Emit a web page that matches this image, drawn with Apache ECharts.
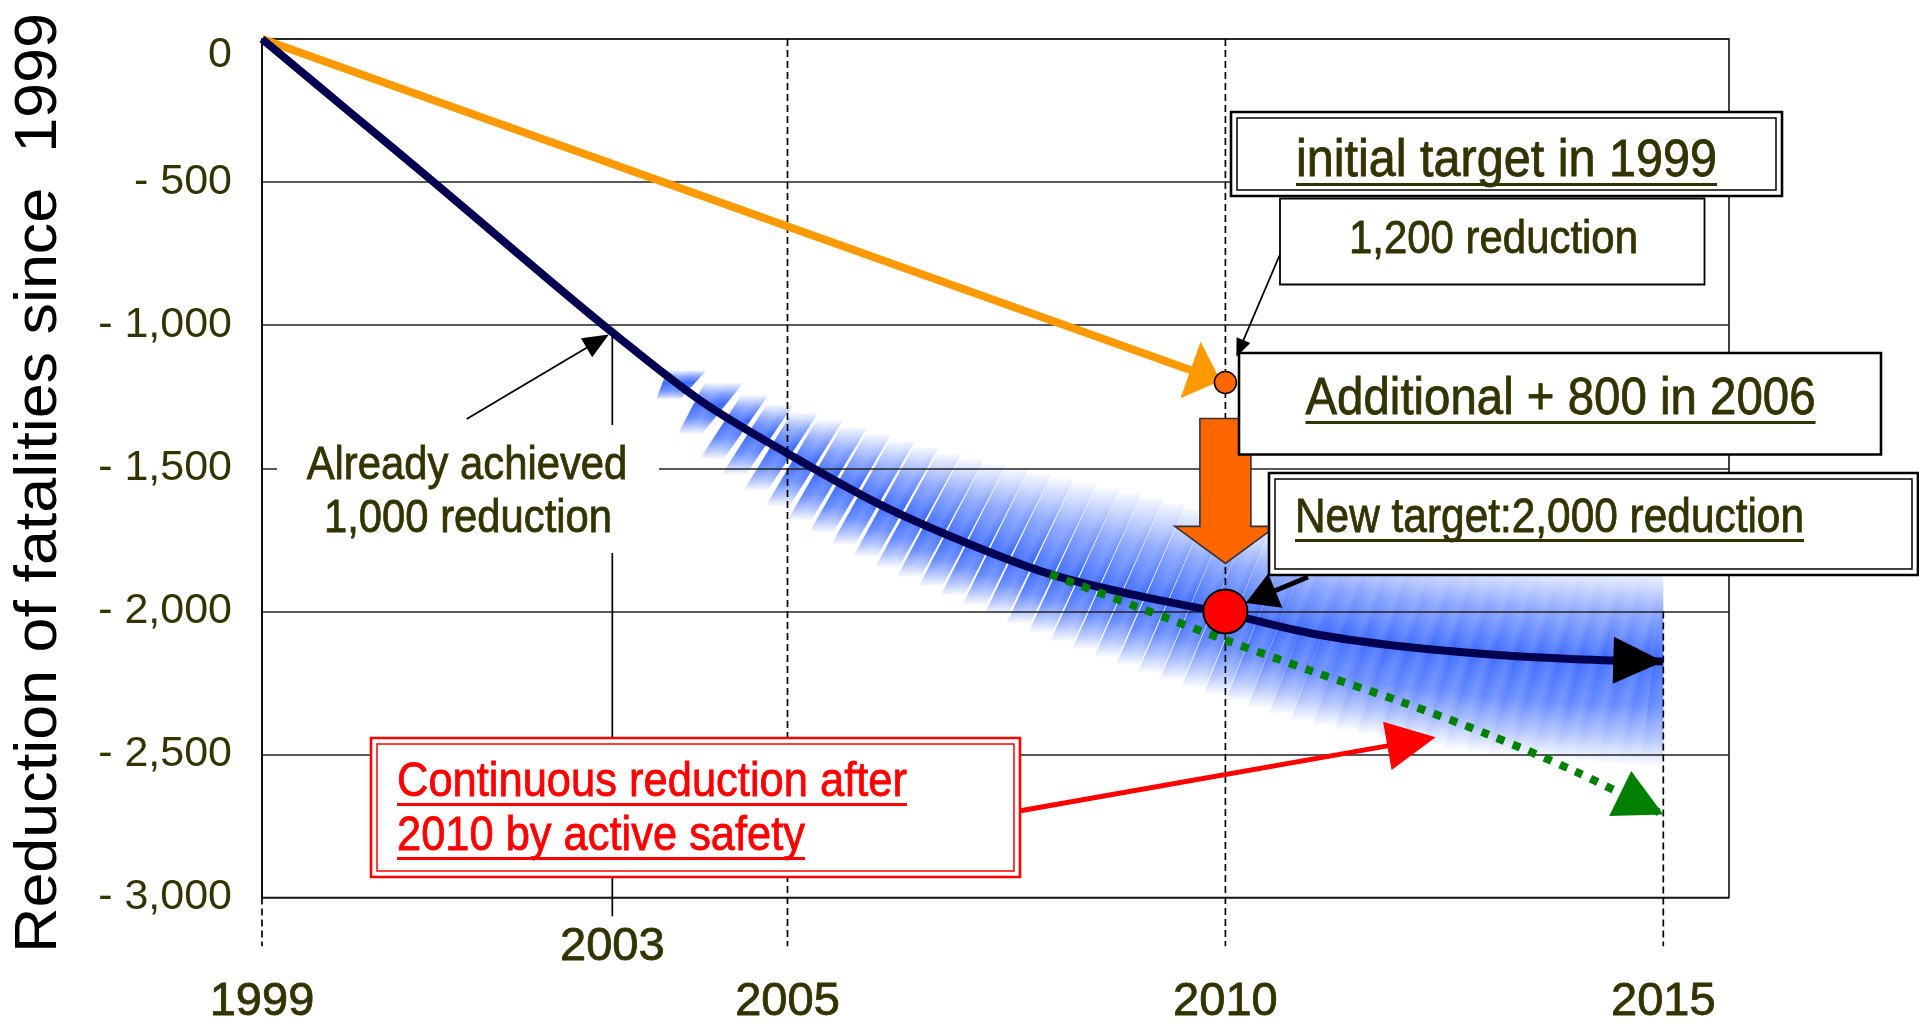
<!DOCTYPE html>
<html>
<head>
<meta charset="utf-8">
<script src="https://cdn.jsdelivr.net/npm/echarts@6/dist/echarts.min.js"></script>
<style>
  html, body { margin: 0; padding: 0; background: #ffffff; }
  #chart { width: 1919px; height: 1026px; }
</style>
</head>
<body>
<div id="chart"></div>
<script>
// ---- data ---------------------------------------------------------------
// Years covered by the fatality-reduction trajectory
const years = [1999, 2000, 2001, 2002, 2003, 2004, 2005, 2006, 2007, 2008,
               2009, 2010, 2011, 2012, 2013, 2014, 2015];
// Reduction of fatalities since 1999 (achieved, then projected)
const trendValues = [0, -255, -510, -770, -1025, -1262, -1448, -1618, -1755, -1870,
                     -1945, -2007, -2078, -2122, -2150, -2167, -2175];

// Initial target set in 1999: 1,200 reduction by 2010
const initialTargetYears = [1999, 2010];
const initialTargetValues = [0, -1200];

// New target: 2,000 reduction by 2010
const newTargetYear = 2010;
const newTargetValue = -2000;

// Continuous reduction after 2010 by active safety
const activeYears = [2008, 2009, 2010, 2011, 2012, 2013, 2014, 2015];
const activeValues = [-1870, -1985, -2100, -2210, -2315, -2430, -2560, -2710];

// Range of the expected reduction (shaded band)
const bandYears = [2003.5, 2004, 2005, 2006, 2007, 2008, 2009, 2010, 2011, 2012, 2013, 2014, 2015];
const bandUpper = [-1130, -1170, -1290, -1380, -1465, -1530, -1595, -1668, -1740, -1790, -1825, -1845, -1860];
const bandLower = [-1200, -1440, -1660, -1830, -1960, -2090, -2200, -2300, -2390, -2450, -2495, -2520, -2540];

// Axis ranges and labelled years
const yMin = -3000, yMax = 0, yStep = 500;
const xMin = 1999, xMax = 2015.75;
const xLabelYears = [1999, 2003, 2005, 2010, 2015];

// Vertical guide lines: year, start value, end value (below the plot)
const guideYears = [1999, 2003, 2005, 2010, 2015];
const guideFrom = [-3000, trendValues[years.indexOf(2003)], 0, 0, -2000];
const guideTo = [-3170, -3065, -3170, -3170, -3170];

// Pointer from the red note to the band of continued reduction
const activeNoteTarget = [2012.4, -2440];

// ---- styling ------------------------------------------------------------
const FONT = '"Liberation Sans", Arial, Helvetica, sans-serif';
const OLIVE = '#333300';
const NAVY = '#000050';
const ORANGE = '#FF9900';
const DEEP_ORANGE = '#FF6600';
const GREEN = '#008000';
const RED = '#FF0000';
const BAND_BLUE = [61, 107, 255];
const solidGuideYears = new Set([2003]);

const measureCtx = document.createElement('canvas').getContext('2d');
function textWidth(str, size) {
  measureCtx.font = size + 'px ' + FONT;
  return measureCtx.measureText(str).width;
}

const lerp = (a, b, t) => a + (b - a) * t;
function piecewise(xs, ys, x) {
  if (x <= xs[0]) return ys[0];
  for (let i = 0; i < xs.length - 1; i++) {
    if (x <= xs[i + 1]) return lerp(ys[i], ys[i + 1], (x - xs[i]) / (xs[i + 1] - xs[i]));
  }
  return ys[ys.length - 1];
}
const trendAt = x => piecewise(years, trendValues, x);
const upperAt = x => piecewise(bandYears, bandUpper, x);
const lowerAt = x => piecewise(bandYears, bandLower, x);

// band blue blended over white at strength a (0..1)
function bandColor(a) {
  const c = BAND_BLUE.map(v => Math.round(255 - a * (255 - v)));
  return 'rgb(' + c.join(',') + ')';
}

// ---- annotation layout (pixels) -------------------------------------------
const noteBoxes = [
  { x: 1231, y: 112, w: 551, h: 84, color: '#000', lw: 2.6, double: true },   // initial target
  { x: 1280, y: 198.5, w: 424.5, h: 86, color: '#000', lw: 1.8, double: false }, // 1,200 reduction
  { x: 1239, y: 353, w: 642, h: 101.5, color: '#000', lw: 2.6, double: false }, // additional
  { x: 1269, y: 473, w: 649, h: 102, color: '#000', lw: 2.6, double: true },   // new target
  { x: 371, y: 738, w: 649, h: 139, color: RED, lw: 2.6, double: true },       // active safety
  { x: 277, y: 425, w: 382, h: 128, color: null, lw: 0, double: false }        // achieved note
];
const noteTexts = [
  { str: 'initial target in 1999', left: 1296, base: 180, size: 51, width: 421, color: OLIVE, ul: true },
  { str: '1,200 reduction', left: 1349, base: 256, size: 47, width: 289, color: OLIVE, ul: false },
  { str: 'Additional + 800 in 2006', left: 1305.5, base: 418, size: 52, width: 510, color: OLIVE, ul: true },
  { str: 'New target:2,000 reduction', left: 1295, base: 536, size: 48, width: 509, color: OLIVE, ul: true },
  { str: 'Continuous reduction after', left: 397, base: 800, size: 48, width: 510, color: RED, ul: true },
  { str: '2010 by active safety', left: 397, base: 854, size: 48, width: 408, color: RED, ul: true },
  { str: 'Already achieved', left: 306.7, base: 482.7, size: 47, width: 320.6, color: OLIVE, ul: false },
  { str: '1,000 reduction', left: 324, base: 535, size: 47, width: 288, color: OLIVE, ul: false }
];

// Arrows: ends given either as pixel points or as data coordinates
const arrowSpecs = [
  { from: { data: [initialTargetYears[0], initialTargetValues[0]] }, to: { data: [initialTargetYears[1], initialTargetValues[1]] },
    color: ORANGE, shaft: false, lw: 0, len: 32, w: 60, back: 5 },
  { from: { data: [years[years.length - 2], trendValues[trendValues.length - 2]] }, to: { data: [years[years.length - 1], trendValues[trendValues.length - 1]] },
    color: '#000', shaft: false, lw: 0, len: 50, w: 47, back: 0 },
  { from: { data: [activeYears[activeYears.length - 2], activeValues[activeValues.length - 2]] }, to: { data: [activeYears[activeYears.length - 1], activeValues[activeValues.length - 1]] },
    color: GREEN, shaft: false, lw: 0, len: 48, w: 50, back: 0 },
  { from: { px: [1019, 811] }, to: { data: activeNoteTarget }, color: RED, shaft: true, lw: 5, len: 49, w: 49, back: 0 },
  { from: { px: [466.7, 419] }, to: { data: [2003, trendValues[years.indexOf(2003)]] }, color: '#000', shaft: true, lw: 1.8, len: 26, w: 22, back: 4 },
  { from: { px: [1281, 252] }, to: { data: [initialTargetYears[1], initialTargetValues[1]] }, color: '#000', shaft: true, lw: 1.8, len: 18, w: 15, back: 28 },
  { from: { px: [1308, 577] }, to: { data: [newTargetYear, newTargetValue] }, color: '#000', shaft: true, lw: 5, len: 32, w: 37, back: 22 }
];

function buildGraphics() {
  const els = [];
  noteBoxes.forEach(b => {
    els.push({ type: 'rect', z: 20, shape: { x: b.x, y: b.y, width: b.w, height: b.h },
      style: { fill: '#ffffff', stroke: b.color || 'none', lineWidth: b.lw } });
    if (b.double) {
      els.push({ type: 'rect', z: 21, shape: { x: b.x + 6, y: b.y + 6, width: b.w - 12, height: b.h - 12 },
        style: { fill: 'none', stroke: b.color, lineWidth: 1.5 } });
    }
  });
  noteTexts.forEach(t => {
    const s = t.width / textWidth(t.str, t.size);
    els.push({ type: 'text', z: 22, x: t.left, y: t.base - 0.35 * t.size, scaleX: s,
      style: { text: t.str, x: 0, y: 0, fontSize: t.size, fontFamily: FONT, fill: t.color,
               stroke: t.color, lineWidth: 0.8,
               align: 'left', verticalAlign: 'middle' } });
    if (t.ul) {
      const uy = t.base + 4.5;
      els.push({ type: 'line', z: 22, shape: { x1: t.left, y1: uy, x2: t.left + t.width, y2: uy },
        style: { stroke: t.color, lineWidth: 2.8 } });
    }
  });
  // vertical axis title
  const title = 'Reduction of fatalities since  1999';
  const tSize = 59;
  els.push({ type: 'text', z: 22, x: 40, y: 483, rotation: Math.PI / 2,
    scaleX: 940 / textWidth(title, tSize),
    style: { text: title, x: 0, y: 0, fontSize: tSize, fontFamily: FONT, fill: '#000',
             align: 'center', verticalAlign: 'middle' } });
  return els;
}

// Slant of the stripe boundary that starts at year x on the lower edge:
// returns the year where that boundary reaches the upper edge
function stripeTopX(api, x) {
  const start = bandYears[0], end = bandYears[bandYears.length - 1];
  const pxPerYear = api.size([1, 0])[0];
  const h = api.coord([x, lowerAt(x)])[1] - api.coord([x, upperAt(x)])[1];
  const slant = lerp(0.55, 0.22, (x - start) / (end - start));
  return Math.min(end, x + h * slant / pxPerYear);
}

// One slanted stripe of the shaded range; stripes tile the band left to right
function bandStripe(api, xL, xR) {
  const end = bandYears[bandYears.length - 1];
  const xM = (xL + xR) / 2;
  const tl = stripeTopX(api, xL), tr = stripeTopX(api, xR), tm = stripeTopX(api, xM);
  const bottom = api.coord([xM, lowerAt(xM)])[1];
  const top = api.coord([tm, upperAt(tm)])[1];
  const pBL = [api.coord([xL, 0])[0], bottom];
  const pBR = [api.coord([xR, 0])[0] + (xR < end ? 2 : 0), bottom];
  const pTL = [api.coord([tl, 0])[0], top];
  const pTR = [api.coord([tr, 0])[0] + (tr < end ? 2 : 0), top];
  // where the stripe's centre line meets the trajectory
  let c = 0.5;
  for (let s = 0; s <= 40; s++) {
    const t = s / 40;
    const x = lerp(xM, tm, t);
    const yLine = lerp(bottom, top, t);
    const yCurve = api.coord([x, trendAt(x)])[1];
    if (yLine <= yCurve) { c = (yLine - top) / Math.max(1, bottom - top); break; }
  }
  c = Math.min(0.95, Math.max(0.05, c));
  const fill = new echarts.graphic.LinearGradient(0, top, 0, bottom, [
    { offset: 0, color: bandColor(0.05) },
    { offset: c * 0.5, color: bandColor(0.62) },
    { offset: c, color: bandColor(1) },
    { offset: c + (1 - c) * 0.45, color: bandColor(0.8) },
    { offset: c + (1 - c) * 0.75, color: bandColor(0.42) },
    { offset: 1, color: bandColor(0.03) }
  ], true);
  // soft sheen across the stripe width
  const dx = (pTL[0] - pBL[0]), dy = (top - bottom);
  const dl = Math.hypot(dx, dy) || 1;
  const nx = -dy / dl, ny = dx / dl;
  const w = (pBR[0] - pBL[0]) * Math.abs(nx);
  const sheen = new echarts.graphic.LinearGradient(pBL[0], pBL[1], pBL[0] + nx * w, pBL[1] + ny * w, [
    { offset: 0, color: 'rgba(255,255,255,0)' },
    { offset: 0.6, color: 'rgba(255,255,255,0.14)' },
    { offset: 1, color: 'rgba(255,255,255,0)' }
  ], true);
  const pts = [pTL, pTR, pBR, pBL];
  return [
    { type: 'polygon', shape: { points: pts }, style: { fill: fill, stroke: null } },
    { type: 'polygon', shape: { points: pts }, style: { fill: sheen, stroke: null } }
  ];
}

// ---- chart --------------------------------------------------------------
const chart = echarts.init(document.getElementById('chart'));

const option = {
  animation: false,
  backgroundColor: '#ffffff',
  grid: { left: 262, right: 190, top: 39, bottom: 127, show: true,
          borderColor: '#000', borderWidth: 1.5, backgroundColor: 'transparent' },
  xAxis: {
    type: 'value', min: xMin, max: xMax, z: 1,
    axisLine: { show: false }, axisTick: { show: false }, splitLine: { show: false },
    axisLabel: {
      customValues: xLabelYears, margin: 26,
      color: OLIVE, fontSize: 47, fontFamily: FONT,
      formatter: v => (v === 2003 ? '{b|' + v + '}' : '{a|' + v + '}'),
      rich: {
        a: { fontSize: 47, fontFamily: FONT, color: OLIVE, padding: [55, 0, 0, 0],
             textBorderColor: OLIVE, textBorderWidth: 0.8 },
        b: { fontSize: 47, fontFamily: FONT, color: OLIVE,
             textBorderColor: OLIVE, textBorderWidth: 0.8 }
      }
    }
  },
  yAxis: {
    type: 'value', min: yMin, max: yMax, interval: yStep, z: 1,
    axisLine: { show: true, lineStyle: { color: '#000', width: 1.5 } },
    axisTick: { show: false },
    splitLine: { show: true, lineStyle: { color: '#222', width: 1.5 } },
    axisLabel: {
      margin: 30, color: OLIVE, fontSize: 43, fontFamily: FONT,
      formatter: v => (v === 0 ? '{z|0}' : '- ' + Math.abs(v).toLocaleString('en-US')),
      rich: { z: { fontSize: 43, fontFamily: FONT, color: OLIVE, padding: [32, 0, 0, 0] } }
    }
  },
  series: [
    {
      // shaded range of expected reduction, drawn as slanted gradient stripes
      name: 'range', type: 'custom', z: 0, silent: true,
      data: bandYears.map((x, i) => [x, bandUpper[i]]),
      renderItem: (params, api) => {
        const i = params.dataIndex;
        if (i >= bandYears.length - 1) return null;
        const x0 = bandYears[i], x1 = bandYears[i + 1];
        const n = Math.max(2, Math.round((x1 - x0) * 4));
        let children = [];
        for (let k = 0; k < n; k++) {
          children = children.concat(bandStripe(api, lerp(x0, x1, k / n), lerp(x0, x1, (k + 1) / n)));
        }
        return { type: 'group', children };
      }
    },
    {
      // vertical guide lines for the key years
      name: 'guides', type: 'custom', z: 2, silent: true,
      data: guideYears.map((x, i) => [x, guideFrom[i]]),
      renderItem: (params, api) => {
        const i = params.dataIndex;
        const p1 = api.coord([guideYears[i], guideFrom[i]]);
        const p2 = api.coord([guideYears[i], guideTo[i]]);
        return { type: 'line', shape: { x1: p1[0], y1: p1[1], x2: p2[0], y2: p2[1] },
          style: { stroke: '#000', lineWidth: 1.7,
                   lineDash: solidGuideYears.has(guideYears[i]) ? null : [7, 4] } };
      }
    },
    {
      name: 'initial target', type: 'line', z: 3, symbol: 'none', silent: true,
      data: initialTargetYears.map((x, i) => [x, initialTargetValues[i]]),
      lineStyle: { color: ORANGE, width: 8, cap: 'butt' }
    },
    {
      name: 'reduction', type: 'line', z: 3, symbol: 'none', smooth: 0.35, silent: true,
      data: years.map((x, i) => [x, trendValues[i]]),
      lineStyle: { color: NAVY, width: 8, cap: 'butt' }
    },
    {
      name: 'active safety', type: 'line', z: 3, symbol: 'none', smooth: 0.3, silent: true,
      data: activeYears.map((x, i) => [x, activeValues[i]]),
      lineStyle: { color: GREEN, width: 8, type: [8, 9], cap: 'butt' }
    },
    {
      // block arrow: additional 800 from the initial to the new target
      name: 'additional', type: 'custom', z: 4, silent: true,
      data: [[newTargetYear, initialTargetValues[1]]],
      renderItem: (params, api) => {
        const a = api.coord([initialTargetYears[1], initialTargetValues[1]]);
        const b = api.coord([newTargetYear, newTargetValue]);
        const x = a[0], top = a[1] + 36, tip = b[1] - 48, headTop = tip - 37;
        const bw = 25.5, hw = 50.5;
        return { type: 'polygon',
          shape: { points: [[x - bw, top], [x + bw, top], [x + bw, headTop], [x + hw, headTop],
                            [x, tip], [x - hw, headTop], [x - bw, headTop]] },
          style: { fill: DEEP_ORANGE, stroke: '#333', lineWidth: 1.6 } };
      }
    },
    {
      name: 'arrows', type: 'custom', z: 5, silent: true,
      data: arrowSpecs.map((s, i) => [xMin + i, yMin]),
      renderItem: (params, api) => {
        const s = arrowSpecs[params.dataIndex];
        const a = s.from.px || api.coord(s.from.data);
        const b = s.to.px || api.coord(s.to.data);
        let dx = b[0] - a[0], dy = b[1] - a[1];
        const L = Math.hypot(dx, dy); dx /= L; dy /= L;
        const tip = [b[0] - dx * s.back, b[1] - dy * s.back];
        const base = [tip[0] - dx * s.len, tip[1] - dy * s.len];
        const nx = -dy, ny = dx;
        const children = [];
        if (s.shaft) {
          children.push({ type: 'line',
            shape: { x1: a[0], y1: a[1], x2: base[0] + dx * 3, y2: base[1] + dy * 3 },
            style: { stroke: s.color, lineWidth: s.lw } });
        }
        children.push({ type: 'polygon',
          shape: { points: [tip, [base[0] + nx * s.w / 2, base[1] + ny * s.w / 2],
                            [base[0] - nx * s.w / 2, base[1] - ny * s.w / 2]] },
          style: { fill: s.color } });
        return { type: 'group', children };
      }
    },
    {
      name: 'initial target point', type: 'scatter', z: 6, silent: true,
      data: [[initialTargetYears[1], initialTargetValues[1]]],
      symbol: 'circle', symbolSize: 22,
      itemStyle: { color: DEEP_ORANGE, borderColor: '#000', borderWidth: 1.5, opacity: 1 }
    },
    {
      name: 'new target point', type: 'scatter', z: 6, silent: true,
      data: [[newTargetYear, newTargetValue]],
      symbol: 'circle', symbolSize: 44,
      itemStyle: { color: RED, borderColor: '#000', borderWidth: 2, opacity: 1 }
    }
  ],
  graphic: { elements: buildGraphics() }
};

chart.setOption(option);
</script>
</body>
</html>
